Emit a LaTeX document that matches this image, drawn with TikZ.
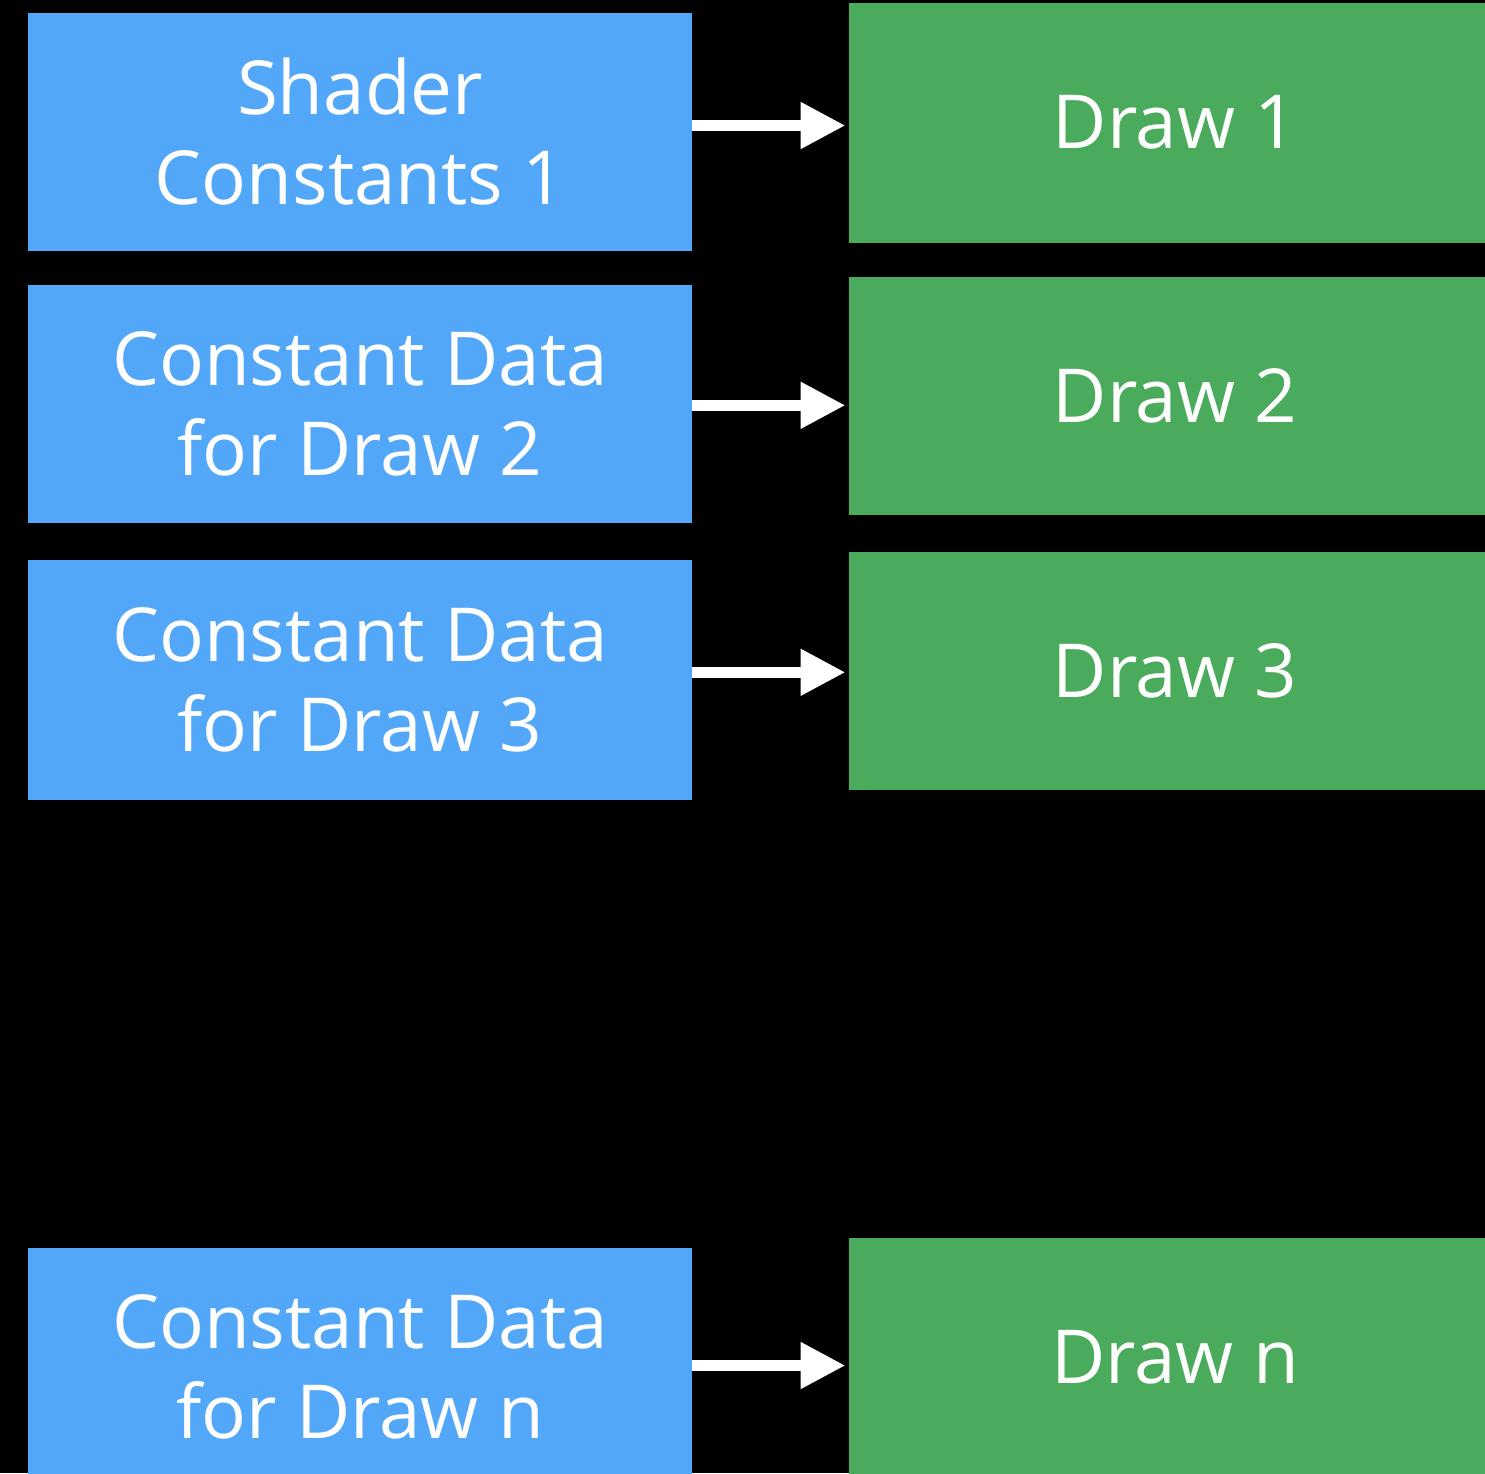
\documentclass[tikz,border=0pt]{standalone}
\usepackage{fontspec}
\setmainfont{Open Sans}
\usetikzlibrary{arrows.meta}
\definecolor{boxblue}{RGB}{83,167,249}
\definecolor{boxgreen}{RGB}{73,171,91}
\begin{document}
\begin{tikzpicture}[x=1pt,y=-1pt,
  bluebox/.style={fill=boxblue, draw=none, minimum width=664pt, inner sep=0pt,
    text=white, align=center, font=\fontsize{74.5}{90.5}\selectfont},
  greenbox/.style={fill=boxgreen, draw=none, minimum width=652pt, inner sep=0pt,
    text=white, align=center, font=\fontsize{74.5}{90.5}\selectfont},
  arr/.style={draw=white, line width=11pt, shorten >=3.3pt,
    -{Triangle[length=45pt,width=44pt]}}
]
\fill[black] (0,0) rectangle (1485,1473);
\useasboundingbox (0,0) rectangle (1485,1473);

\node[bluebox, minimum height=237.5pt] (b1) at (360,131.75) {Shader\\Constants 1};
\node[bluebox, minimum height=237.5pt] (b2) at (360,403.75) {Constant Data\\for Draw 2};
\node[bluebox, minimum height=239.5pt] (b3) at (360,679.75) {Constant Data\\for Draw 3};
\node[bluebox, minimum height=238pt] (b4) at (360,1367) {Constant Data\\for Draw n};

\node[greenbox, minimum height=239.5pt] (g1) at (1175,122.75) {Draw 1};
\node[greenbox, minimum height=237.5pt] (g2) at (1175,395.75) {Draw 2};
\node[greenbox, minimum height=237.5pt] (g3) at (1175,670.75) {Draw 3};
\node[greenbox, minimum height=238pt] (g4) at (1175,1357) {Draw n};

\coordinate (y1) at (770,125.5);
\coordinate (y2) at (770,405.3);
\coordinate (y3) at (770,672.3);
\coordinate (y4) at (770,1365.5);

\draw[arr] (b1.east |- y1) -- (g1.west |- y1);
\draw[arr] (b2.east |- y2) -- (g2.west |- y2);
\draw[arr] (b3.east |- y3) -- (g3.west |- y3);
\draw[arr] (b4.east |- y4) -- (g4.west |- y4);
\end{tikzpicture}
\end{document}
